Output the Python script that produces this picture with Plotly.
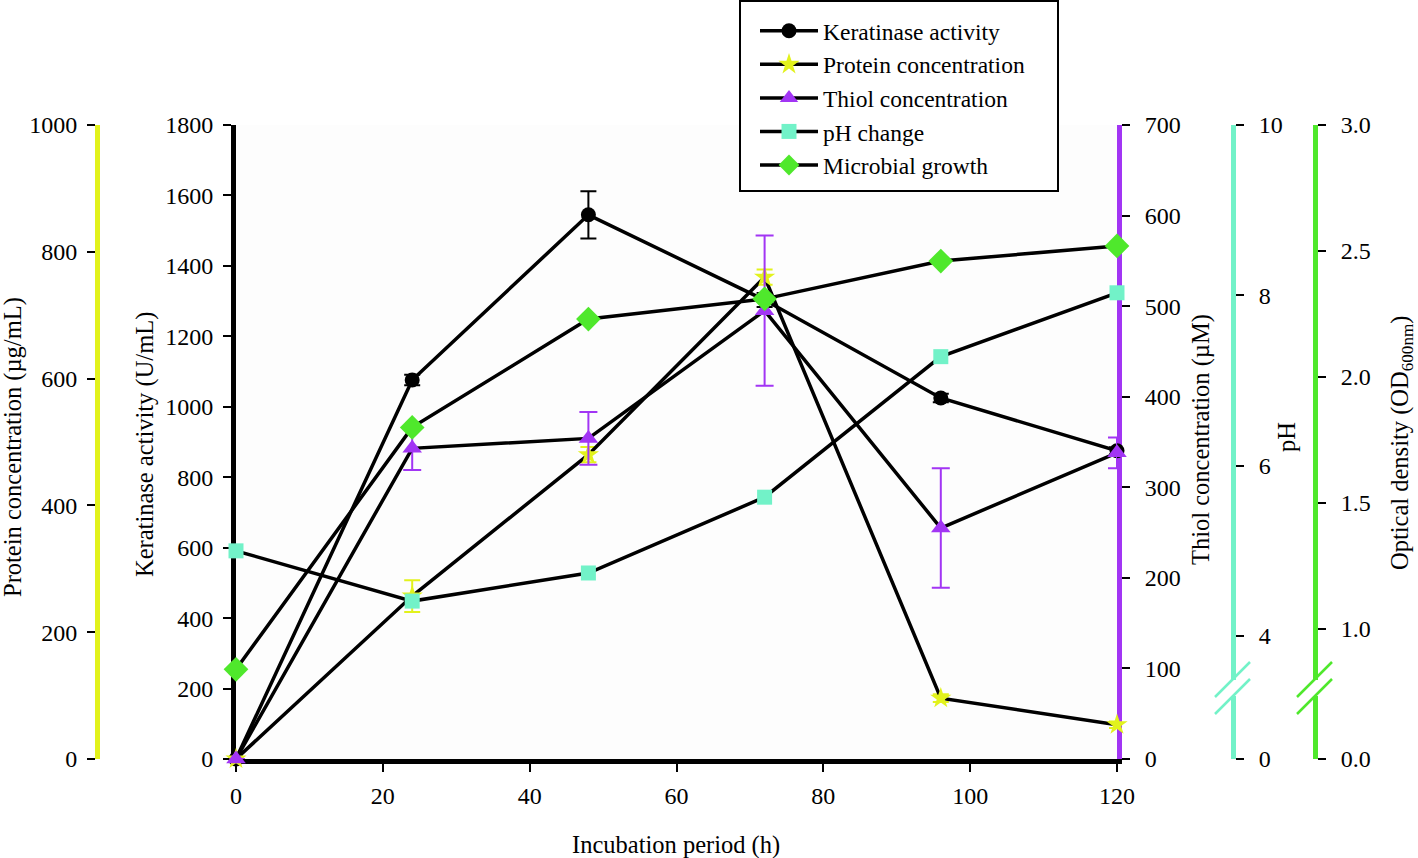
import plotly.graph_objects as go

# ---------------- data ----------------
hours = [0, 24, 48, 72, 96, 120]
keratinase = [0, 1076, 1545, 1303, 1025, 875]
keratinase_err = [0, 15, 67, 20, 12, 10]
protein = [0, 257, 480, 760, 96, 54]
protein_err = [0, 25, 12, 12, 6, 5]
thiol = [0, 343, 354, 495, 255, 338]
thiol_err = [0, 24, 29, 83, 66, 17]
ph = [5.0, 4.41, 4.74, 5.63, 7.28, 8.03]
od = [0.84, 1.80, 2.23, 2.31, 2.46, 2.52]

x_ticks = [0, 20, 40, 60, 80, 100, 120]
ph_break_bottom = 2.556      # axis bottom (broken axis, labelled 0)
ph_tickvals = [ph_break_bottom, 4, 6, 8, 10]
ph_ticktext = ["0", "4", "6", "8", "10"]
od_break_bottom = 0.484      # axis bottom (broken axis, labelled 0.0)
od_tickvals = [od_break_bottom, 1.0, 1.5, 2.0, 2.5, 3.0]
od_ticktext = ["0.0", "1.0", "1.5", "2.0", "2.5", "3.0"]

# ---------------- style ----------------
W, H = 1418, 858
FONT = "Liberation Serif, Times New Roman, serif"
YELLOW = "#E2F21C"
PURPLE = "#A235F4"
AQUA = "#72F2C8"
GREEN = "#4FE82C"


def px(x):
    return x / W


def py(y):
    return 1 - y / H


fig = go.Figure()

line_style = dict(color="black", width=3.5)

fig.add_trace(go.Scatter(
    x=hours, y=keratinase, name="Keratinase activity", mode="lines+markers",
    line=line_style, marker=dict(symbol="circle", size=15, color="black"),
    error_y=dict(type="data", array=keratinase_err, color="black", thickness=2, width=8),
    yaxis="y", cliponaxis=False))

fig.add_trace(go.Scatter(
    x=hours, y=protein, name="Protein concentration", mode="lines+markers",
    line=line_style, marker=dict(symbol="star", size=16, color=YELLOW),
    error_y=dict(type="data", array=protein_err, color=YELLOW, thickness=2, width=8),
    yaxis="y2", cliponaxis=False))

fig.add_trace(go.Scatter(
    x=hours, y=thiol, name="Thiol concentration", mode="lines+markers",
    line=line_style, marker=dict(symbol="triangle-up", size=17, color=PURPLE),
    error_y=dict(type="data", array=thiol_err, color=PURPLE, thickness=2, width=9),
    yaxis="y3", cliponaxis=False))

fig.add_trace(go.Scatter(
    x=hours, y=ph, name="pH change", mode="lines+markers",
    line=line_style, marker=dict(symbol="square", size=15, color=AQUA),
    yaxis="y4", cliponaxis=False))

fig.add_trace(go.Scatter(
    x=hours, y=od, name="Microbial growth", mode="lines+markers",
    line=line_style, marker=dict(symbol="diamond", size=19, color=GREEN),
    yaxis="y5", cliponaxis=False))

tickfont = dict(family=FONT, size=24, color="black")
common = dict(showgrid=False, zeroline=False, ticks="outside", ticklen=8,
              tickwidth=2, tickcolor="black", tickfont=tickfont,
              showline=True, linewidth=5, layer="below traces", automargin=False)

ydom = [py(759), py(125)]
lstand = 5
rstand = 10

fig.update_layout(
    width=W, height=H,
    margin=dict(l=0, r=0, t=0, b=0),
    template="none",
    paper_bgcolor="white",
    plot_bgcolor="#fdfdfd",
    font=dict(family=FONT, size=24, color="black"),
    showlegend=True,
    legend=dict(x=px(755), y=py(9), xanchor="left", yanchor="top",
                bgcolor="rgba(0,0,0,0)", borderwidth=0,
                font=dict(family=FONT, size=23.5, color="black"),
                itemwidth=58, tracegroupgap=0),
    xaxis=dict(domain=[px(236), px(1117)], range=[0, 120], tickvals=x_ticks,
               linecolor="black", anchor="y", ticklabelstandoff=3, **common),
    yaxis=dict(domain=ydom, range=[0, 1800], dtick=200, tick0=0,
               linecolor="black", anchor="x", side="left",
               ticklabelstandoff=lstand, **common),
    yaxis2=dict(domain=ydom, range=[0, 1000], dtick=200, tick0=0,
                linecolor=YELLOW, overlaying="y", anchor="free",
                position=px(97), side="left", ticklabelstandoff=lstand, **common),
    yaxis3=dict(domain=ydom, range=[0, 700], dtick=100, tick0=0,
                linecolor=PURPLE, overlaying="y", anchor="x", side="right",
                ticklabelstandoff=rstand, **common),
    yaxis4=dict(domain=ydom, range=[ph_break_bottom, 10], tickvals=ph_tickvals,
                ticktext=ph_ticktext, linecolor=AQUA, overlaying="y",
                anchor="free", position=px(1233), side="right",
                ticklabelstandoff=rstand, **common),
    yaxis5=dict(domain=ydom, range=[od_break_bottom, 3.0], tickvals=od_tickvals,
                ticktext=od_ticktext, linecolor=GREEN, overlaying="y",
                anchor="free", position=px(1315), side="right",
                ticklabelstandoff=rstand, **common),
)

# legend frame
fig.add_shape(type="rect", xref="paper", yref="paper",
              x0=px(740), x1=px(1058), y0=py(191), y1=py(1),
              fillcolor="white", line=dict(color="black", width=2), layer="above")

# axis titles
title_font = dict(family=FONT, size=24.5, color="black")
titles = [
    ("Protein concentration (µg/mL)", 13, 447, -90),
    ("Keratinase activity (U/mL)", 145, 445, -90),
    ("Thiol concentration (µM)", 1201, 440, -90),
    ("pH", 1286, 437, -90),
    ("Optical density (OD<sub>600nm</sub>)", 1401, 443, -90),
    ("Incubation period (h)", 676, 845, 0),
]
for text, x, y, ang in titles:
    fig.add_annotation(text=text, x=px(x), y=py(y), xref="paper", yref="paper",
                       xanchor="center", yanchor="middle", showarrow=False,
                       textangle=ang, font=title_font)

# axis break marks on pH and OD axes
for ax_x, col in [(1233, AQUA), (1315, GREEN)]:
    fig.add_shape(type="rect", xref="paper", yref="paper",
                  x0=px(ax_x - 5), x1=px(ax_x + 5), y0=py(696), y1=py(680),
                  fillcolor="white", line=dict(width=0), layer="above")
    for dy in (0, 17):
        fig.add_shape(type="line", xref="paper", yref="paper",
                      x0=px(ax_x - 18), y0=py(697 + dy), x1=px(ax_x + 17), y1=py(662 + dy),
                      line=dict(color=col, width=2.5), layer="above")

fig.write_html("out.html", config={"displayModeBar": False},
               post_script="document.body.style.margin='0px';")
